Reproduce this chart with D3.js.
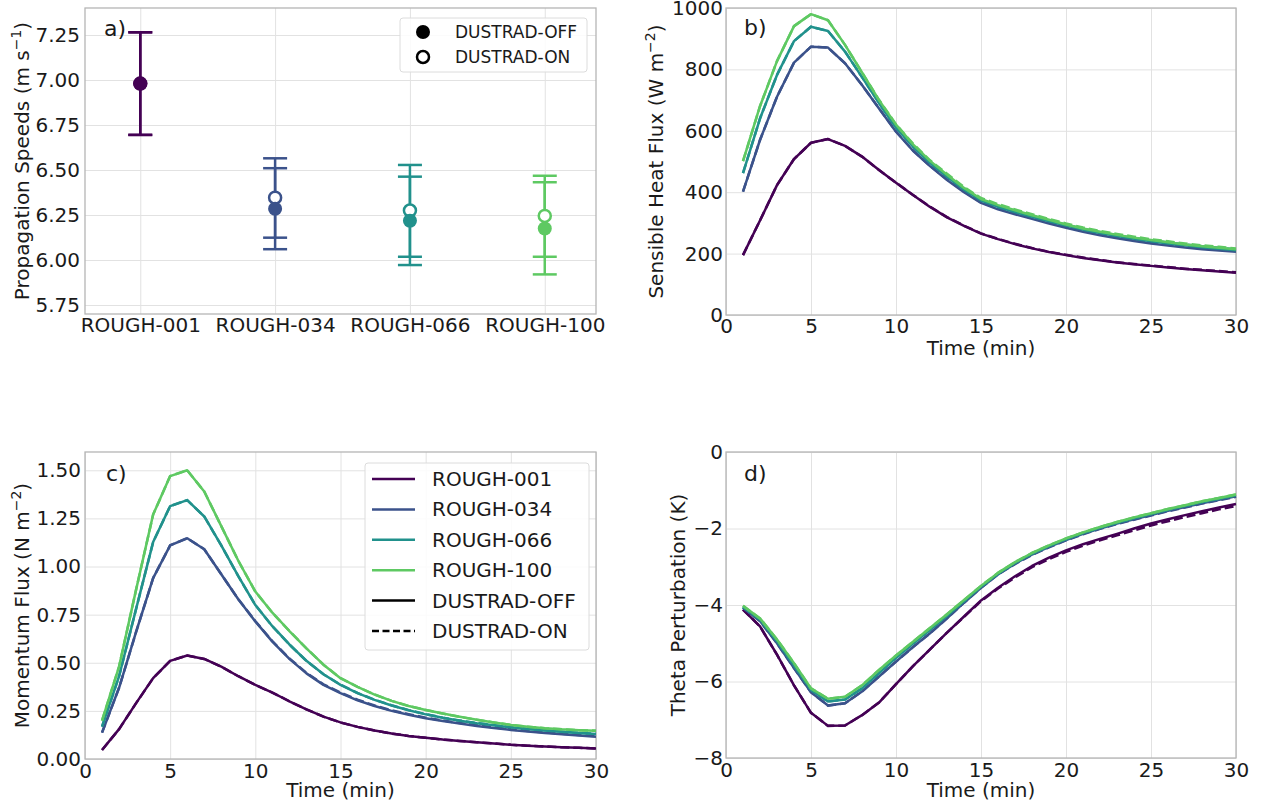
<!DOCTYPE html>
<html><head><meta charset="utf-8">
<script src="https://cdn.jsdelivr.net/npm/d3@7"></script>
<style>
html,body{margin:0;padding:0;background:#fff;}
svg{display:block;font-family:"DejaVu Sans",sans-serif;}
</style></head>
<body><svg id="c" width="1261" height="805"></svg>
<script>
// ---------------- DATA ----------------
const roughNames = ["ROUGH-001","ROUGH-034","ROUGH-066","ROUGH-100"];
const roughColors = ["#440154","#3b528b","#21918c","#5ec962"];
const dustNames = ["DUSTRAD-OFF","DUSTRAD-ON"];

// panel a: propagation speeds (mean, low, high)
const speedOff = [6.98, 6.285, 6.218, 6.175];
const speedOffLow = [6.695, 6.06, 5.972, 5.92];
const speedOffHigh = [7.265, 6.51, 6.463, 6.432];
const speedOn = [6.98, 6.346, 6.275, 6.245];
const speedOnLow = [6.695, 6.124, 6.018, 6.018];
const speedOnHigh = [7.265, 6.565, 6.528, 6.468];
const speedTicks = [5.75, 6.00, 6.25, 6.50, 6.75, 7.00, 7.25];

const time = [1,2,3,4,5,6,7,8,9,10,11,12,13,14,15,16,17,18,19,20,21,22,23,24,25,26,27,28,29,30];

// panel b: sensible heat flux (W m-2)
const shfOff001 = [195,308,423,508,561,573,551,516,472,431,391,352,318,290,265,247,231,217,205,195,186,178,171,165,160,155,150,146,142,138];
const shfOff034 = [402,570,711,822,874,871,820,749,673,597,535,485,440,400,365,344,328,313,298,284,271,260,250,241,233,226,220,214,210,206];
const shfOff066 = [462,640,782,892,939,925,858,775,690,610,548,495,450,408,373,352,335,320,305,291,278,267,257,248,240,233,227,221,216,211];
const shfOff100 = [501,680,827,941,980,960,880,790,700,620,556,502,457,414,378,358,341,325,310,295,282,271,261,252,244,237,230,224,219,214];
const shfOn001 = [195,308,423,508,561,573,551,516,472,431,391,353,319,291,266,248,232,218,206,196,187,179,172,166,161,156,151,147,143,139];
const shfOn034 = [402,570,711,822,874,871,820,749,673,598,536,486,442,402,367,347,331,316,301,287,274,263,253,244,236,229,223,217,213,209];
const shfOn066 = [462,640,782,892,939,925,858,775,691,611,549,497,452,411,376,355,338,323,308,294,281,270,260,251,243,236,230,224,219,214];
const shfOn100 = [501,680,827,941,980,960,880,790,701,621,558,504,460,417,381,361,344,328,313,298,285,274,264,255,247,240,233,227,222,217];
const shfTicks = [0,200,400,600,800,1000];

// panel c: momentum flux (N m-2)
const mfOff001 = [0.047,0.155,0.29,0.42,0.51,0.538,0.52,0.48,0.43,0.385,0.345,0.30,0.258,0.22,0.19,0.167,0.148,0.132,0.12,0.11,0.101,0.094,0.087,0.081,0.074,0.069,0.065,0.061,0.058,0.055];
const mfOff034 = [0.137,0.37,0.66,0.94,1.11,1.147,1.09,0.96,0.83,0.715,0.61,0.52,0.445,0.385,0.342,0.305,0.275,0.25,0.23,0.212,0.197,0.184,0.172,0.161,0.151,0.143,0.135,0.128,0.122,0.116];
const mfOff066 = [0.168,0.43,0.78,1.127,1.314,1.345,1.26,1.11,0.95,0.80,0.69,0.595,0.51,0.44,0.385,0.342,0.307,0.278,0.253,0.232,0.214,0.199,0.186,0.175,0.165,0.156,0.148,0.141,0.135,0.13];
const mfOff100 = [0.20,0.48,0.88,1.27,1.47,1.50,1.39,1.21,1.03,0.87,0.76,0.665,0.575,0.49,0.42,0.375,0.335,0.302,0.275,0.255,0.236,0.219,0.204,0.19,0.177,0.168,0.16,0.154,0.15,0.147];
const mfOn001 = [0.047,0.155,0.29,0.42,0.51,0.538,0.52,0.48,0.43,0.385,0.345,0.30,0.258,0.22,0.19,0.167,0.148,0.132,0.12,0.11,0.101,0.094,0.087,0.081,0.074,0.069,0.065,0.061,0.058,0.055];
const mfOn034 = [0.137,0.37,0.66,0.94,1.11,1.147,1.09,0.96,0.83,0.716,0.612,0.522,0.448,0.388,0.345,0.308,0.278,0.253,0.233,0.215,0.2,0.187,0.175,0.164,0.154,0.146,0.138,0.131,0.125,0.119];
const mfOn066 = [0.168,0.43,0.78,1.127,1.314,1.345,1.26,1.11,0.95,0.80,0.69,0.595,0.51,0.44,0.386,0.343,0.308,0.279,0.254,0.233,0.215,0.2,0.187,0.176,0.166,0.157,0.149,0.142,0.136,0.131];
const mfOn100 = [0.20,0.48,0.88,1.27,1.47,1.50,1.39,1.21,1.03,0.87,0.76,0.665,0.575,0.49,0.42,0.375,0.335,0.302,0.275,0.255,0.236,0.219,0.204,0.19,0.177,0.168,0.16,0.154,0.15,0.147];
const mfTicks = [0,0.25,0.5,0.75,1.0,1.25,1.5];

// panel d: theta perturbation (K)
const thOff001 = [-4.12,-4.56,-5.3,-6.1,-6.82,-7.16,-7.15,-6.88,-6.55,-6.07,-5.6,-5.16,-4.72,-4.3,-3.88,-3.55,-3.25,-2.98,-2.76,-2.57,-2.41,-2.27,-2.14,-2.0,-1.87,-1.76,-1.65,-1.55,-1.45,-1.36];
const thOff034 = [-4.07,-4.42,-5.0,-5.65,-6.28,-6.63,-6.57,-6.26,-5.87,-5.48,-5.1,-4.74,-4.35,-3.94,-3.55,-3.2,-2.92,-2.68,-2.48,-2.3,-2.14,-2.0,-1.87,-1.76,-1.65,-1.54,-1.44,-1.34,-1.25,-1.16];
const thOff066 = [-4.05,-4.38,-4.95,-5.58,-6.22,-6.52,-6.47,-6.18,-5.78,-5.38,-5.01,-4.65,-4.28,-3.9,-3.52,-3.18,-2.9,-2.66,-2.46,-2.28,-2.12,-1.98,-1.85,-1.73,-1.62,-1.51,-1.41,-1.31,-1.22,-1.13];
const thOff100 = [-4.02,-4.35,-4.9,-5.52,-6.18,-6.45,-6.4,-6.1,-5.7,-5.32,-4.96,-4.6,-4.24,-3.87,-3.5,-3.16,-2.88,-2.64,-2.44,-2.26,-2.1,-1.96,-1.83,-1.71,-1.6,-1.49,-1.39,-1.29,-1.2,-1.11];
const thOn001 = [-4.12,-4.56,-5.3,-6.1,-6.82,-7.16,-7.15,-6.88,-6.55,-6.07,-5.6,-5.16,-4.72,-4.31,-3.9,-3.57,-3.28,-3.01,-2.8,-2.61,-2.45,-2.31,-2.18,-2.05,-1.92,-1.81,-1.7,-1.6,-1.5,-1.41];
const thOn034 = [-4.07,-4.42,-5.0,-5.65,-6.28,-6.63,-6.57,-6.26,-5.87,-5.48,-5.1,-4.74,-4.35,-3.94,-3.55,-3.2,-2.93,-2.69,-2.49,-2.31,-2.15,-2.01,-1.88,-1.77,-1.66,-1.55,-1.45,-1.35,-1.26,-1.17];
const thOn066 = [-4.05,-4.38,-4.95,-5.58,-6.22,-6.52,-6.47,-6.18,-5.78,-5.38,-5.01,-4.65,-4.28,-3.9,-3.52,-3.18,-2.9,-2.66,-2.46,-2.28,-2.12,-1.98,-1.85,-1.73,-1.62,-1.51,-1.41,-1.31,-1.22,-1.13];
const thOn100 = [-4.02,-4.35,-4.9,-5.52,-6.18,-6.45,-6.4,-6.1,-5.7,-5.32,-4.96,-4.6,-4.24,-3.87,-3.5,-3.16,-2.88,-2.64,-2.44,-2.26,-2.1,-1.96,-1.83,-1.71,-1.6,-1.49,-1.39,-1.29,-1.2,-1.11];
const thTicks = [-8,-6,-4,-2,0];
const timeTicks = [0,5,10,15,20,25,30];

// ---------------- DRAW ----------------
const svg = d3.select("#c");
const FRAME = "#b5b5b5", GRID = "#e2e2e2", TXT = "#1a1a1a";
const FS = 20;

function drawAxes(p, x, y, xTicks, yTicks, xFmt, yFmt){
  const g = svg.append("g");
  g.append("g").attr("transform",`translate(0,${p.y1})`)
    .call(d3.axisBottom(x).tickValues(xTicks).tickSize(-(p.y1-p.y0)).tickFormat(""))
    .call(s=>{s.select(".domain").remove(); s.selectAll("line").attr("stroke",GRID).attr("stroke-width",1);});
  g.append("g").attr("transform",`translate(${p.x0},0)`)
    .call(d3.axisLeft(y).tickValues(yTicks).tickSize(-(p.x1-p.x0)).tickFormat(""))
    .call(s=>{s.select(".domain").remove(); s.selectAll("line").attr("stroke",GRID).attr("stroke-width",1);});
  g.append("rect").attr("x",p.x0).attr("y",p.y0).attr("width",p.x1-p.x0).attr("height",p.y1-p.y0)
    .attr("fill","none").attr("stroke",FRAME).attr("stroke-width",1.3);
  g.append("g").attr("transform",`translate(0,${p.y1})`)
    .call(d3.axisBottom(x).tickValues(xTicks).tickSize(0).tickPadding(p.xpad).tickFormat(xFmt))
    .call(s=>{s.select(".domain").remove(); s.selectAll("text").attr("font-size",FS).attr("fill",TXT).attr("font-family","DejaVu Sans");});
  g.append("g").attr("transform",`translate(${p.x0},0)`)
    .call(d3.axisLeft(y).tickValues(yTicks).tickSize(0).tickPadding(p.ypad).tickFormat(yFmt))
    .call(s=>{s.select(".domain").remove(); s.selectAll("text").attr("font-size",FS).attr("fill",TXT).attr("font-family","DejaVu Sans");});
  return g;
}
function yTitle(xb, yc, main, sup, tail){
  const t = svg.append("text").attr("transform",`translate(${xb},${yc}) rotate(-90)`)
    .attr("text-anchor","middle").attr("font-size",FS).attr("fill",TXT);
  t.append("tspan").text(main);
  if(sup){
    t.append("tspan").attr("font-size",14).attr("dy",-8).text(sup);
    t.append("tspan").attr("dy",8).text(tail);
  }
}
function xTitle(p, yb){
  svg.append("text").attr("x",(p.x0+p.x1)/2).attr("y",yb).attr("text-anchor","middle")
    .attr("font-size",FS).attr("fill",TXT).text("Time (min)");
}
function panelLabel(x,y,s){
  svg.append("text").attr("x",x).attr("y",y).attr("font-size",22).attr("fill",TXT).text(s);
}
const minus = s => String(s).replace("-","\u2212");

// ----- panel a -----
const pa = {x0:85,x1:596,y0:8,y1:314,xpad:4,ypad:5};
const xa = d3.scaleLinear().domain([-0.41,3.38]).range([pa.x0,pa.x1]);
const ya = d3.scaleLinear().domain([5.70,7.40]).range([pa.y1,pa.y0]);
drawAxes(pa, xa, ya, [0,1,2,3], speedTicks, i=>roughNames[i], d=>d3.format(".2f")(d));
const ga = svg.append("g");
const CAP = 12;
function errbar(i, lo, hi){
  const c = roughColors[i], xc = xa(i);
  ga.append("line").attr("x1",xc).attr("x2",xc).attr("y1",ya(lo)).attr("y2",ya(hi)).attr("stroke",c).attr("stroke-width",2.5);
  [lo,hi].forEach(v=>ga.append("line").attr("x1",xc-CAP).attr("x2",xc+CAP).attr("y1",ya(v)).attr("y2",ya(v)).attr("stroke",c).attr("stroke-width",2.5));
}
roughNames.forEach((n,i)=>{
  errbar(i, speedOnLow[i], speedOnHigh[i]);
  errbar(i, speedOffLow[i], speedOffHigh[i]);
});
roughNames.forEach((n,i)=>{
  ga.append("circle").attr("cx",xa(i)).attr("cy",ya(speedOn[i])).attr("r",6).attr("fill","#fff").attr("stroke",roughColors[i]).attr("stroke-width",2.5);
  ga.append("circle").attr("cx",xa(i)).attr("cy",ya(speedOff[i])).attr("r",7).attr("fill",roughColors[i]);
});
const la = svg.append("g");
la.append("rect").attr("x",400).attr("y",18).attr("width",187).attr("height",54).attr("rx",3)
  .attr("fill","#fff").attr("fill-opacity",0.85).attr("stroke","#dcdcdc");
la.append("circle").attr("cx",423).attr("cy",32).attr("r",7).attr("fill","#000");
la.append("circle").attr("cx",423).attr("cy",57).attr("r",6).attr("fill","#fff").attr("stroke","#000").attr("stroke-width",2.5);
la.append("text").attr("x",455).attr("y",32).attr("dy","0.35em").attr("font-size",17).attr("fill",TXT).text(dustNames[0]);
la.append("text").attr("x",455).attr("y",57).attr("dy","0.35em").attr("font-size",17).attr("fill",TXT).text(dustNames[1]);
yTitle(29, (pa.y0+pa.y1)/2, "Propagation Speeds (m s", "\u22121", ")");
panelLabel(104,36,"a)");

function linePanel(p, ydom, yTicks, yFmt, offs, ons){
  const x = d3.scaleLinear().domain([0,30]).range([p.x0,p.x1]);
  const y = d3.scaleLinear().domain(ydom).range([p.y1,p.y0]);
  drawAxes(p, x, y, timeTicks, yTicks, d=>d, yFmt);
  const line = d3.line().x((d,i)=>x(time[i])).y(d=>y(d));
  const g = svg.append("g");
  offs.forEach((arr,i)=>{
    g.append("path").attr("d",line(arr)).attr("fill","none").attr("stroke",roughColors[i]).attr("stroke-width",2.5).attr("stroke-linejoin","round");
    g.append("path").attr("d",line(ons[i])).attr("fill","none").attr("stroke",roughColors[i]).attr("stroke-width",2.5).attr("stroke-dasharray","9,4");
  });
  return {x,y};
}

// ----- panel b -----
const pb = {x0:726,x1:1236,y0:8,y1:315,xpad:4,ypad:3};
linePanel(pb, [0,1000], shfTicks, d=>d, [shfOff001,shfOff034,shfOff066,shfOff100],[shfOn001,shfOn034,shfOn066,shfOn100]);
yTitle(663, (pb.y0+pb.y1)/2, "Sensible Heat Flux (W m", "\u22122", ")");
xTitle(pb, 355);
panelLabel(744,35,"b)");

// ----- panel c -----
const pc = {x0:85,x1:596,y0:452,y1:759,xpad:5,ypad:4};
linePanel(pc, [0,1.595], mfTicks, d=>d3.format(".2f")(d), [mfOff001,mfOff034,mfOff066,mfOff100],[mfOn001,mfOn034,mfOn066,mfOn100]);
yTitle(29, (pc.y0+pc.y1)/2, "Momentum Flux (N m", "\u22122", ")");
xTitle(pc, 797);
panelLabel(106,481,"c)");
const lc = svg.append("g");
lc.append("rect").attr("x",365).attr("y",463).attr("width",224).attr("height",187).attr("rx",3)
  .attr("fill","#fff").attr("fill-opacity",0.85).attr("stroke","#dcdcdc");
const legItems = roughNames.map((n,i)=>({n, c:roughColors[i], dash:null}))
  .concat([{n:dustNames[0],c:"#000",dash:null},{n:dustNames[1],c:"#000",dash:"7,3.5"}]);
legItems.forEach((it,k)=>{
  const yy = 479 + k*30.4;
  lc.append("line").attr("x1",372).attr("x2",415).attr("y1",yy).attr("y2",yy).attr("stroke",it.c).attr("stroke-width",2.5).attr("stroke-dasharray",it.dash);
  lc.append("text").attr("x",432).attr("y",yy).attr("dy","0.35em").attr("font-size",FS).attr("fill",TXT).text(it.n);
});

// ----- panel d -----
const pd = {x0:726,x1:1236,y0:452,y1:758,xpad:5,ypad:3};
linePanel(pd, [-8,0], thTicks, d=>minus(d), [thOff001,thOff034,thOff066,thOff100],[thOn001,thOn034,thOn066,thOn100]);
yTitle(685, (pd.y0+pd.y1)/2, "Theta Perturbation (K)");
xTitle(pd, 797);
panelLabel(744,481,"d)");
</script>
</body></html>
